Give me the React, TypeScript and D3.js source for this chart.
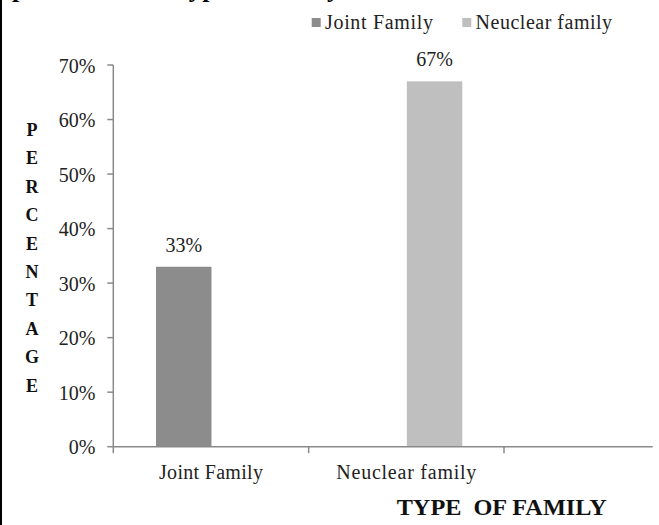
import React from "react";
import * as d3 from "d3";

// Categories along the x axis and the two series shown in the legend
const categories = ["Joint Family", "Neuclear family"];
const seriesNames = ["Joint Family", "Neuclear family"];
const jointValues = [33, 0];
const nuclearValues = [0, 67];
const seriesValues = [jointValues, nuclearValues];
const seriesColors = ["#8c8c8c", "#bfbfbf"];
const yTicks = [0, 10, 20, 30, 40, 50, 60, 70];
const yTitle = "PERCENTAGE";
const xTitle = "TYPE  OF FAMILY";
const headTitle = "percent of the type of family";

const W = 659;
const H = 525;
const SERIF = "Liberation Serif, Times New Roman, Times, DejaVu Serif, serif";

export default function App() {
  const plotLeft = 113.3;
  const plotBottom = 446.7;
  const plotTop = 65;
  const bandEnd = 504;
  const axisRight = 652.7;

  const y = d3.scaleLinear().domain([0, 70]).range([plotBottom, plotTop]);
  const x = d3.scaleBand<string>().domain(categories).range([plotLeft, bandEnd]).padding(0);
  const bw = x.bandwidth();
  const xs = d3
    .scaleBand<string>()
    .domain(seriesNames)
    .range([bw * 0.2186, bw * 0.7865])
    .padding(0);

  const xTickPositions = [...categories.map((c) => x(c) as number), bandEnd];
  const letterStep = 28.4;
  const letterStart = 136;
  const txt = { fontFamily: SERIF } as React.CSSProperties;

  return (
    <svg
      width={W}
      height={H}
      viewBox={`0 0 ${W} ${H}`}
      style={{ position: "absolute", left: 0, top: 0, background: "#fff", fontFamily: SERIF }}
    >
      <rect x={0} y={0} width={W} height={H} fill="#fff" />
      {/* frame edge on the left */}
      <rect x={0} y={0} width={2} height={H} fill="#000" />

      {/* heading, mostly above the top edge */}
      <text
        x={12}
        y={-3}
        fontSize={26}
        fontWeight="bold"
        fill="#000"
        style={txt}
        textLength={328}
        lengthAdjust="spacing"
      >
        {headTitle}
      </text>

      {/* legend */}
      {seriesNames.map((s, i) => {
        const lx = [311.7, 462.3][i];
        return (
          <g key={s}>
            <rect x={lx} y={18} width={9} height={9} fill={seriesColors[i]} />
            <text
              x={lx + 13.3}
              y={28.5}
              fontSize={20}
              fill="#222"
              style={txt}
              textLength={i === 0 ? 108 : 136.5}
              lengthAdjust="spacing"
            >
              {s}
            </text>
          </g>
        );
      })}

      {/* y axis */}
      <line x1={plotLeft} x2={plotLeft} y1={plotTop} y2={plotBottom} stroke="#8a8a8a" strokeWidth={1.5} />
      {yTicks.map((t) => (
        <g key={t}>
          <line x1={plotLeft - 6} x2={plotLeft} y1={y(t)} y2={y(t)} stroke="#8a8a8a" strokeWidth={1.5} />
          <text x={95.5} y={y(t) + 7.5} fontSize={20} textAnchor="end" fill="#222" style={txt}>
            {`${t}%`}
          </text>
        </g>
      ))}

      {/* y axis title, stacked letters */}
      {yTitle.split("").map((ch, i) => (
        <text
          key={i}
          x={32}
          y={letterStart + i * letterStep}
          fontSize={18}
          fontWeight="bold"
          textAnchor="middle"
          fill="#111"
          style={txt}
        >
          {ch}
        </text>
      ))}

      {/* bars */}
      {categories.map((c, ci) =>
        seriesNames.map((s, si) => {
          const v = seriesValues[si][ci];
          if (!v) return null;
          const bx = (x(c) as number) + (xs(s) as number);
          return (
            <g key={`${c}-${s}`}>
              <rect
                x={bx}
                y={y(v)}
                width={xs.bandwidth()}
                height={y(0) - y(v)}
                fill={seriesColors[si]}
              />
              <text
                x={bx + xs.bandwidth() / 2}
                y={y(v) - 15}
                fontSize={20}
                textAnchor="middle"
                fill="#222"
                style={txt}
              >
                {`${v}%`}
              </text>
            </g>
          );
        })
      )}

      {/* x axis */}
      <line x1={plotLeft} x2={axisRight} y1={plotBottom} y2={plotBottom} stroke="#8a8a8a" strokeWidth={1.5} />
      {xTickPositions.map((px, i) => (
        <line key={i} x1={px} x2={px} y1={plotBottom} y2={plotBottom + 6.5} stroke="#8a8a8a" strokeWidth={1.5} />
      ))}
      {categories.map((c, i) => (
        <text
          key={c}
          x={(x(c) as number) + bw / 2}
          y={479}
          fontSize={20}
          textAnchor="middle"
          fill="#222"
          style={txt}
          textLength={i === 0 ? 104 : 140}
          lengthAdjust="spacing"
        >
          {c}
        </text>
      ))}

      {/* x axis title */}
      <text
        x={396.7}
        y={515}
        fontSize={24}
        fontWeight="bold"
        fill="#111"
        style={{ ...txt, whiteSpace: "pre" }}
        textLength={210}
        lengthAdjust="spacingAndGlyphs"
      >
        {xTitle}
      </text>
    </svg>
  );
}
